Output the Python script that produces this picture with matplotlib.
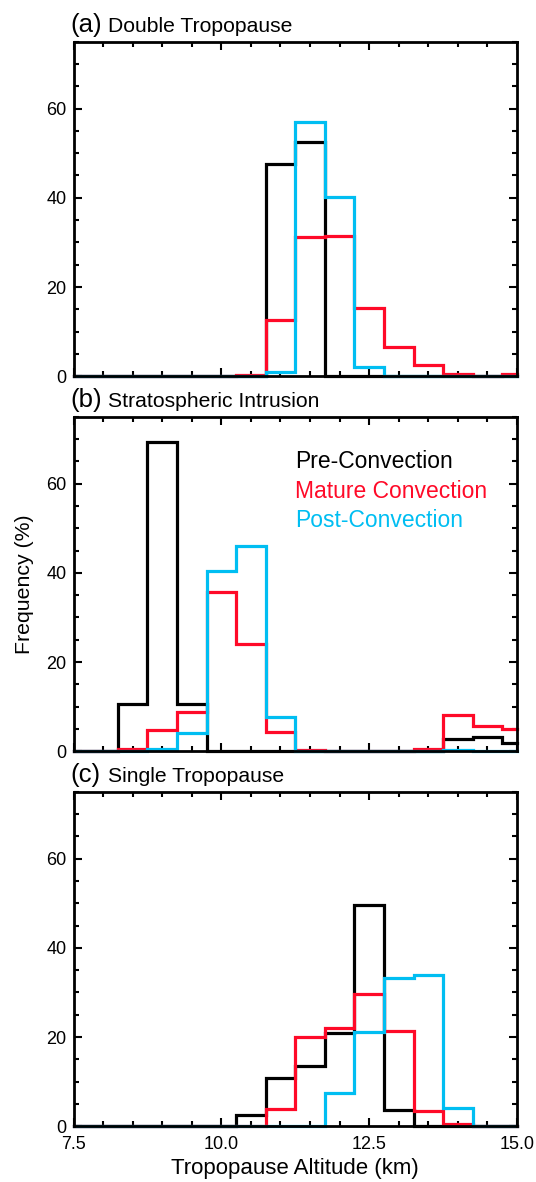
import matplotlib
matplotlib.use("Agg")
import matplotlib.pyplot as plt
from matplotlib.ticker import MultipleLocator, FixedLocator

plt.rcParams['font.family'] = ['Liberation Sans', 'DejaVu Sans']

# Bin centres (km)
altitude_km = [7.5, 8.0, 8.5, 9.0, 9.5, 10.0, 10.5, 11.0, 11.5, 12.0,
               12.5, 13.0, 13.5, 14.0, 14.5, 15.0]

# (a) Double Tropopause
double_pre = [0, 0, 0, 0, 0, 0, 0, 47.5, 52.5, 0, 0, 0, 0, 0, 0, 0]
double_mature = [0, 0, 0, 0, 0, 0, 0.3, 12.5, 31.3, 31.5, 15.3, 6.5, 2.5, 0.4, 0, 0.4]
double_post = [0, 0, 0, 0, 0, 0, 0, 0.9, 57.0, 40.1, 2.0, 0, 0, 0, 0, 0]

# (b) Stratospheric Intrusion
strat_pre = [0, 0, 10.6, 69.3, 10.6, 0, 0, 0, 0, 0, 0, 0, 0, 2.7, 3.2, 1.8]
strat_mature = [0, 0, 0.5, 4.7, 8.8, 35.8, 24.1, 4.3, 0.3, 0, 0, 0, 0.4, 8.2, 5.6, 4.9]
strat_post = [0, 0, 0, 0.4, 4.0, 40.4, 45.9, 7.7, 0, 0, 0, 0, 0, 0.2, 0, 0]

# (c) Single Tropopause
single_pre = [0, 0, 0, 0, 0, 0, 2.5, 10.7, 13.5, 20.9, 49.6, 3.6, 0, 0, 0, 0]
single_mature = [0, 0, 0, 0, 0, 0, 0, 3.8, 19.9, 22.1, 29.6, 21.3, 3.4, 0.4, 0, 0]
single_post = [0, 0, 0, 0, 0, 0, 0, 0, 0, 7.5, 21.1, 33.3, 34.0, 4.1, 0, 0]

panel_letters = ["(a)", "(b)", "(c)"]
panel_titles = ["Double Tropopause", "Stratospheric Intrusion", "Single Tropopause"]
series_names = ["Pre-Convection", "Mature Convection", "Post-Convection"]
xticks = [7.5, 10.0, 12.5, 15.0]
yticks = [0, 20, 40, 60]

colors = ["#000000", "#FF0A28", "#00BEF2"]

panels = [
    (double_pre, double_mature, double_post),
    (strat_pre, strat_mature, strat_post),
    (single_pre, single_mature, single_post),
]

W, H = 536, 1182
fig = plt.figure(figsize=(W / 100, H / 100), dpi=100)

left_px, right_px = 73.5, 517.0
tops_px = [41.7, 416.7, 791.7]
ax_h_px = 334.5

axes = []
for i in range(3):
    top = tops_px[i]
    ax = fig.add_axes([left_px / W, 1 - (top + ax_h_px) / H,
                       (right_px - left_px) / W, ax_h_px / H])
    axes.append(ax)
    for vals, c in zip(panels[i], colors):
        ax.step(altitude_km, vals, where='mid', color=c, lw=2.3,
                clip_on=False, solid_joinstyle='miter')
    ax.set_xlim(7.5, 15.0)
    ax.set_ylim(0, 75)
    ax.xaxis.set_major_locator(FixedLocator(xticks))
    ax.xaxis.set_minor_locator(MultipleLocator(0.5))
    ax.yaxis.set_major_locator(FixedLocator(yticks))
    ax.yaxis.set_minor_locator(MultipleLocator(5))
    ax.tick_params(which='both', direction='in', top=True, right=True,
                   width=1.5, labelsize=13, color='black')
    ax.tick_params(which='major', length=6)
    ax.tick_params(which='minor', length=3.5)
    ax.tick_params(axis='y', pad=5)
    ax.tick_params(axis='x', pad=7)
    for sp in ax.spines.values():
        sp.set_linewidth(2.0)
    if i < 2:
        ax.set_xticklabels([])
    else:
        ax.set_xticklabels(["7.5", "10.0", "12.5", "15.0"])
    ax.set_yticklabels([str(v) for v in yticks])
    ax.text(-0.008, 1.028, panel_letters[i], transform=ax.transAxes,
            fontsize=18.5, ha='left', va='baseline')
    ax.text(0.078, 1.028, panel_titles[i], transform=ax.transAxes,
            fontsize=15.2, ha='left', va='baseline')

# legend text in panel (b)
leg_y = [0.846, 0.756, 0.669]
for name, c, yy in zip(series_names, colors, leg_y):
    axes[1].text(0.4995, yy, name, color=c, fontsize=16.5, transform=axes[1].transAxes,
                 ha='left', va='baseline')

axes[1].set_ylabel("Frequency (%)", fontsize=15.3, labelpad=9)
axes[2].set_xlabel("Tropopause Altitude (km)", fontsize=16, labelpad=4)

fig.savefig("out.png", dpi=100)
